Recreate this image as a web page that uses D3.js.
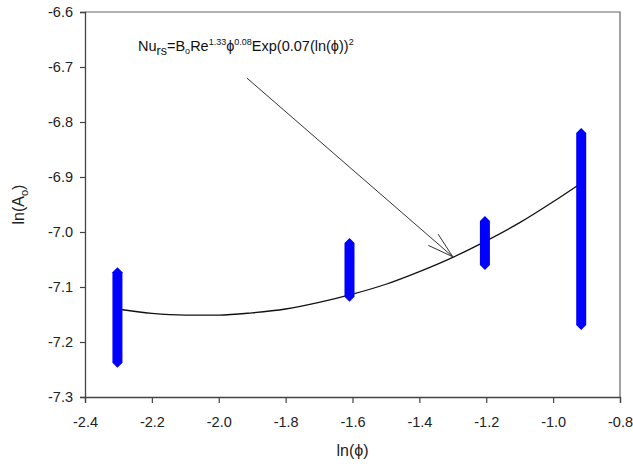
<!DOCTYPE html>
<html>
<head>
<meta charset="utf-8">
<script src="https://cdn.jsdelivr.net/npm/d3@7"></script>
<style>
  body { margin: 0; background: #fff; }
  svg { font-family: "Liberation Sans", Arial, sans-serif; }
</style>
</head>
<body>
<svg id="chart"></svg>
<script>
// measured groups: ln(phi) and min / max of ln(Ao)
var lnPhi = [-2.303, -1.609, -1.204, -0.916];
var lnAoMin = [-7.247, -7.127, -7.069, -7.178];
var lnAoMax = [-7.064, -7.011, -6.971, -6.811];

// fitted curve
var fitX = [-2.303, -2.2, -2.1, -2.0, -1.9, -1.8, -1.7, -1.6, -1.5, -1.4, -1.3, -1.2, -1.1, -1.0, -0.916];
var fitY = [-7.140, -7.148, -7.151, -7.151, -7.147, -7.140, -7.128, -7.113, -7.095, -7.072, -7.046, -7.016, -6.983, -6.945, -6.911];

var xTicks = [-2.4, -2.2, -2.0, -1.8, -1.6, -1.4, -1.2, -1.0, -0.8];
var yTicks = [-6.6, -6.7, -6.8, -6.9, -7.0, -7.1, -7.2, -7.3];

var width = 633;
var height = 467;
var margin = {left: 85, right: 13, top: 12, bottom: 70};

var svg = d3.select("#chart")
  .attr("width", width)
  .attr("height", height);

var x = d3.scaleLinear().domain([-2.4, -0.8]).range([margin.left, width - margin.right]);
var y = d3.scaleLinear().domain([-7.3, -6.6]).range([height - margin.bottom, margin.top]);

// frame (top + right)
svg.append("path")
  .attr("d", "M" + x(-2.4) + "," + y(-6.6) + "H" + x(-0.8) + "V" + y(-7.3))
  .attr("fill", "none")
  .attr("stroke", "#666")
  .attr("stroke-width", 1.2);

// axes
var xAxis = svg.append("g")
  .attr("transform", "translate(0," + y(-7.3) + ")")
  .call(d3.axisBottom(x).tickValues(xTicks).tickSize(6).tickPadding(14).tickFormat(d3.format(".1f")));
var yAxis = svg.append("g")
  .attr("transform", "translate(" + x(-2.4) + ",0)")
  .call(d3.axisLeft(y).tickValues(yTicks).tickSize(5).tickPadding(7).tickFormat(d3.format(".1f")));

[xAxis, yAxis].forEach(function(a){
  a.select(".domain").attr("stroke", "#444").attr("stroke-width", 1.3);
  a.selectAll(".tick line").attr("stroke", "#444").attr("stroke-width", 1.2);
  a.selectAll(".tick text")
   .attr("font-size", 14.5)
   .attr("fill", "#222")
   .text(function(d){ return d3.format(".1f")(d).replace("\u2212", "-"); });
});

// axis titles
svg.append("text")
  .attr("x", x(-1.6))
  .attr("y", 456)
  .attr("text-anchor", "middle")
  .attr("font-size", 16)
  .attr("fill", "#222")
  .text("ln(\u03d5)");

var yl = svg.append("text")
  .attr("transform", "translate(24," + y(-6.95) + ") rotate(-90)")
  .attr("text-anchor", "middle")
  .attr("font-size", 16)
  .attr("fill", "#222");
yl.append("tspan").text("ln(A");
yl.append("tspan").attr("font-size", 11).attr("dy", 4).text("o");
yl.append("tspan").attr("dy", -4).text(")");

// fitted curve
var pts = fitX.map(function(d, i){ return [d, fitY[i]]; });
svg.append("path")
  .datum(pts)
  .attr("fill", "none")
  .attr("stroke", "#111")
  .attr("stroke-width", 1.3)
  .attr("d", d3.line()
    .x(function(d){ return x(d[0]); })
    .y(function(d){ return y(d[1]); })
    .curve(d3.curveMonotoneX));

// blue data columns
var half = 5;
svg.selectAll("path.col")
  .data(lnPhi)
  .enter()
  .append("path")
  .attr("class", "col")
  .attr("fill", "#0000ff")
  .attr("d", function(d, i){
    var cx = x(d), t = y(lnAoMax[i]), b = y(lnAoMin[i]);
    return "M" + cx + "," + t +
      "L" + (cx + half) + "," + (t + half) +
      "L" + (cx + half) + "," + (b - half) +
      "L" + cx + "," + b +
      "L" + (cx - half) + "," + (b - half) +
      "L" + (cx - half) + "," + (t + half) + "Z";
  });

// annotation arrow
var arrowFrom = [-1.916, -6.72];
var arrowTo = [-1.30, -7.045];
var x1 = x(arrowFrom[0]), y1 = y(arrowFrom[1]);
var x2 = x(arrowTo[0]), y2 = y(arrowTo[1]);
var ang = Math.atan2(y2 - y1, x2 - x1);
var len = 27, spread = 0.28;
svg.append("path")
  .attr("fill", "none")
  .attr("stroke", "#333")
  .attr("stroke-width", 1)
  .attr("d", "M" + x1 + "," + y1 + "L" + x2 + "," + y2 +
    "M" + (x2 - len * Math.cos(ang - spread)) + "," + (y2 - len * Math.sin(ang - spread)) +
    "L" + x2 + "," + y2 +
    "L" + (x2 - len * Math.cos(ang + spread)) + "," + (y2 - len * Math.sin(ang + spread)));

// equation label
var eq = svg.append("text")
  .attr("x", 138)
  .attr("y", 51)
  .attr("font-size", 14.5)
  .attr("fill", "#111");
eq.append("tspan").text("Nu");
eq.append("tspan").attr("font-size", 12.5).attr("dy", 4).text("rs");
eq.append("tspan").attr("dy", -4).text("=B");
eq.append("tspan").attr("font-size", 9).attr("dy", 3).text("o");
eq.append("tspan").attr("dy", -3).text("Re");
eq.append("tspan").attr("font-size", 9).attr("dy", -6).text("1.33");
eq.append("tspan").attr("dy", 6).text("\u03d5");
eq.append("tspan").attr("font-size", 9).attr("dy", -6).text("0.08");
eq.append("tspan").attr("dy", 6).text("Exp(0.07(ln(\u03d5))");
eq.append("tspan").attr("font-size", 9).attr("dy", -6).text("2");
</script>
</body>
</html>
